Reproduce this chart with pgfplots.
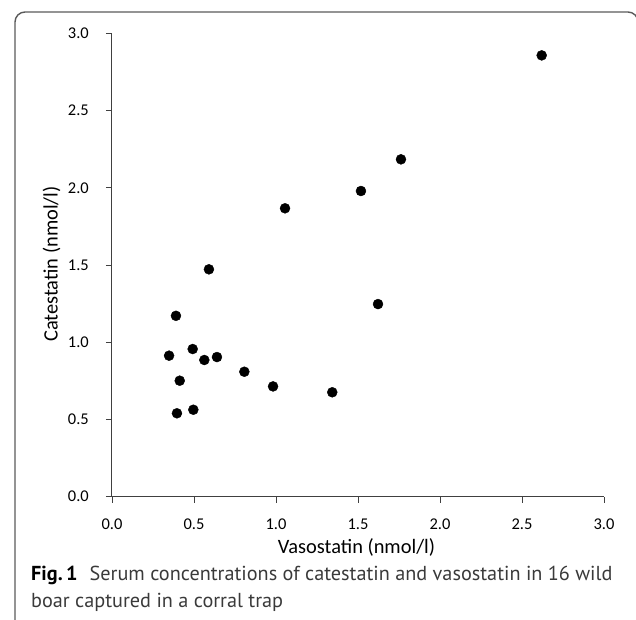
\documentclass[border=0pt]{standalone}
\usepackage{fontspec}
\setmainfont{Carlito}
\newfontfamily\capfont{PT Sans}
\usepackage{pgfplots}
\pgfplotsset{compat=1.18}
\definecolor{axgray}{HTML}{404040}
\definecolor{framegray}{HTML}{5A5A5A}
\definecolor{captext}{HTML}{3A3A3A}
\begin{document}
\begin{tikzpicture}[x=1bp,y=1bp]
\useasboundingbox (-112,-123.3) rectangle (524,496.7);
\draw[framegray,line width=1.4bp,rounded corners=10bp] (-97,-140) -- (-97,484.7) -- (526,484.7) -- (526,-140);
\begin{axis}[
  at={(0,0)}, anchor=south west,
  scale only axis, width=492bp, height=463.4bp,
  xmin=0, xmax=3, ymin=0, ymax=3,
  axis lines=left, axis line style={-, axgray, line width=1bp},
  xtick={0,0.5,...,3}, ytick={0,0.5,...,3},
  tick pos=left, tick align=outside, major tick length=6bp,
  tick style={axgray, line width=0.9bp},
  /pgf/number format/assume math mode=true,
  /pgf/number format/fixed, /pgf/number format/fixed zerofill, /pgf/number format/precision=1,
  tick label style={font=\fontsize{16.5}{19}\selectfont, text=black, inner sep=0pt},
  xticklabel style={anchor=base, yshift=-26.6bp},
  yticklabel style={anchor=east, xshift=-17bp},
  xlabel={Vasostatin (nmol/l)}, ylabel={Catestatin (nmol/l)},
  label style={font=\fontsize{20.5}{24}\selectfont},
  xlabel style={at={(axis description cs:0.497,0)}, anchor=base, yshift=-57bp},
  ylabel style={at={(axis description cs:-0.1226,0.502)}, anchor=center},
  clip=false,
]
\addplot[only marks, mark=*, mark size=5bp, black] coordinates {
(2.62,2.857) (1.762,2.184) (1.518,1.979) (1.622,1.247) (1.055,1.867)
(0.591,1.472) (0.390,1.171) (0.348,0.913) (0.492,0.956) (0.563,0.885)
(0.640,0.904) (0.413,0.751) (0.807,0.809) (0.982,0.714) (0.396,0.540)
(0.496,0.563) (1.343,0.676)
};
\end{axis}
\node[anchor=base west, inner sep=0pt, text=captext, font=\capfont\fontsize{20.3}{24}\selectfont] at (-81,-83.3) {{\bfseries\color{black}Fig.\,1}\hspace{0.6em}Serum concentrations of catestatin and vasostatin in 16 wild};
\node[anchor=base west, inner sep=0pt, text=captext, font=\capfont\fontsize{20.3}{24}\selectfont] at (-81,-110.3) {boar captured in a corral trap};
\end{tikzpicture}
\end{document}
